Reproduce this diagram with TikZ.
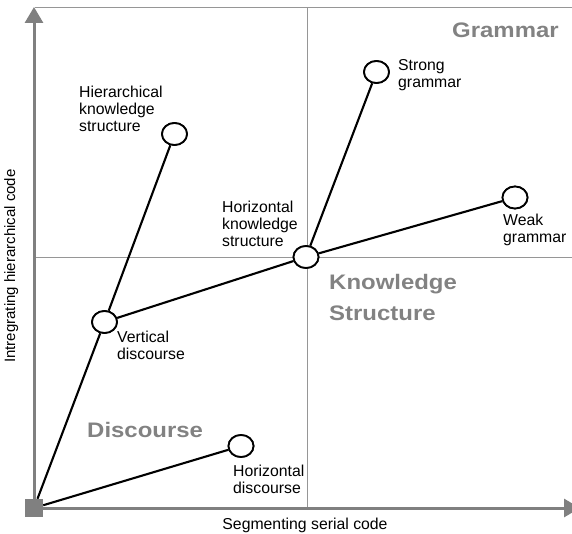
\documentclass[tikz,border=0pt]{standalone}
\usepackage{fontspec}
\setmainfont{Liberation Sans}
\usetikzlibrary{arrows.meta,shapes.geometric}
\definecolor{axisgray}{RGB}{128,128,128}
\definecolor{thingray}{RGB}{150,150,150}
\definecolor{labelgray}{RGB}{130,130,130}
\newcommand{\mylines}[1]{\begin{tabular}[t]{@{}l@{}}#1\end{tabular}}
\tikzset{
  axis/.style={draw=axisgray, line width=3pt, -{Triangle[length=16pt,width=18pt]}},
  thin line/.style={draw=thingray, line width=1pt},
  link/.style={draw=black, line width=2.1pt},
  pt/.style={ellipse, draw=black, line width=1.8pt, fill=white, minimum width=25pt, minimum height=22pt, inner sep=0pt},
  lbl/.style={anchor=base west, inner sep=0pt, font=\fontsize{15.8}{17}\selectfont},
  big/.style={anchor=base west, inner sep=0pt, text=labelgray, xscale=1.14, font=\fontsize{21}{30}\selectfont\bfseries},
}
\begin{document}
\begin{tikzpicture}[x=1pt, y=-1pt]
\useasboundingbox (0,0) rectangle (572,534);
\clip (0,0) rectangle (572,534);
% frame lines
\coordinate (tl) at (35,7.5);
\coordinate (tr) at (575,7.5);
\coordinate (ml) at (35,258);
\coordinate (mr) at (575,258);
\coordinate (mt) at (307,7.5);
\coordinate (mb) at (307,508);
\draw[thin line] (tl) -- (tr);
\draw[thin line] (ml) -- (mr);
\draw[thin line] (mt) -- (mb);
% axes
\coordinate (ytip) at (34,7);
\coordinate (xtip) at (580,508);
\node[fill=axisgray, minimum size=18pt, inner sep=0pt] (o) at (34,508) {};
\draw[axis] (o.center) -- (ytip);
\draw[axis] (o.center) -- (xtip);
% points
\node[pt] (hks) at (174.5,134) {};
\node[pt] (sg) at (376.5,72) {};
\node[pt] (wg) at (515,197.5) {};
\node[pt] (hk) at (306,257) {};
\node[pt] (vd) at (104.5,322) {};
\node[pt] (hd) at (241,446) {};
% links
\draw[link] (o) -- (vd);
\draw[link] (vd) -- (hks);
\draw[link] (vd) -- (hk);
\draw[link] (hk) -- (wg);
\draw[link] (hk) -- (sg);
\draw[link] (o) -- (hd);
% redraw points on top
\node[pt] at (hks) {};
\node[pt] at (sg) {};
\node[pt] at (wg) {};
\node[pt] at (hk) {};
\node[pt] at (vd) {};
\node[pt] at (hd) {};
\node[fill=axisgray, minimum size=18pt, inner sep=0pt] at (o) {};
% labels
\node[lbl] (l1) at (79,98) {\mylines{Hierarchical\\knowledge\\structure}};
\node[lbl] (l2) at (398,71) {\mylines{Strong\\grammar}};
\node[lbl] (l3) at (503,226) {\mylines{Weak\\grammar}};
\node[lbl] (l4) at (222,213) {\mylines{Horizontal\\knowledge\\structure}};
\node[lbl] (l5) at (117,342) {\mylines{Vertical\\discourse}};
\node[lbl] (l6) at (233,476) {\mylines{Horizontal\\discourse}};
\node[big] (g) at (452,38) {Grammar};
\node[big] (ks) at (329,290) {\mylines{Knowledge\\Structure}};
\node[big] (d) at (87,437) {Discourse};
% axis titles
\node[anchor=base, inner sep=0pt, font=\fontsize{15.8}{17}\selectfont] (xl) at (305,529) {Segmenting serial code};
\node[anchor=base, inner sep=0pt, rotate=90, font=\fontsize{15}{17}\selectfont] (yl) at (15,266) {Intregrating hierarchical code};
\end{tikzpicture}
\end{document}
